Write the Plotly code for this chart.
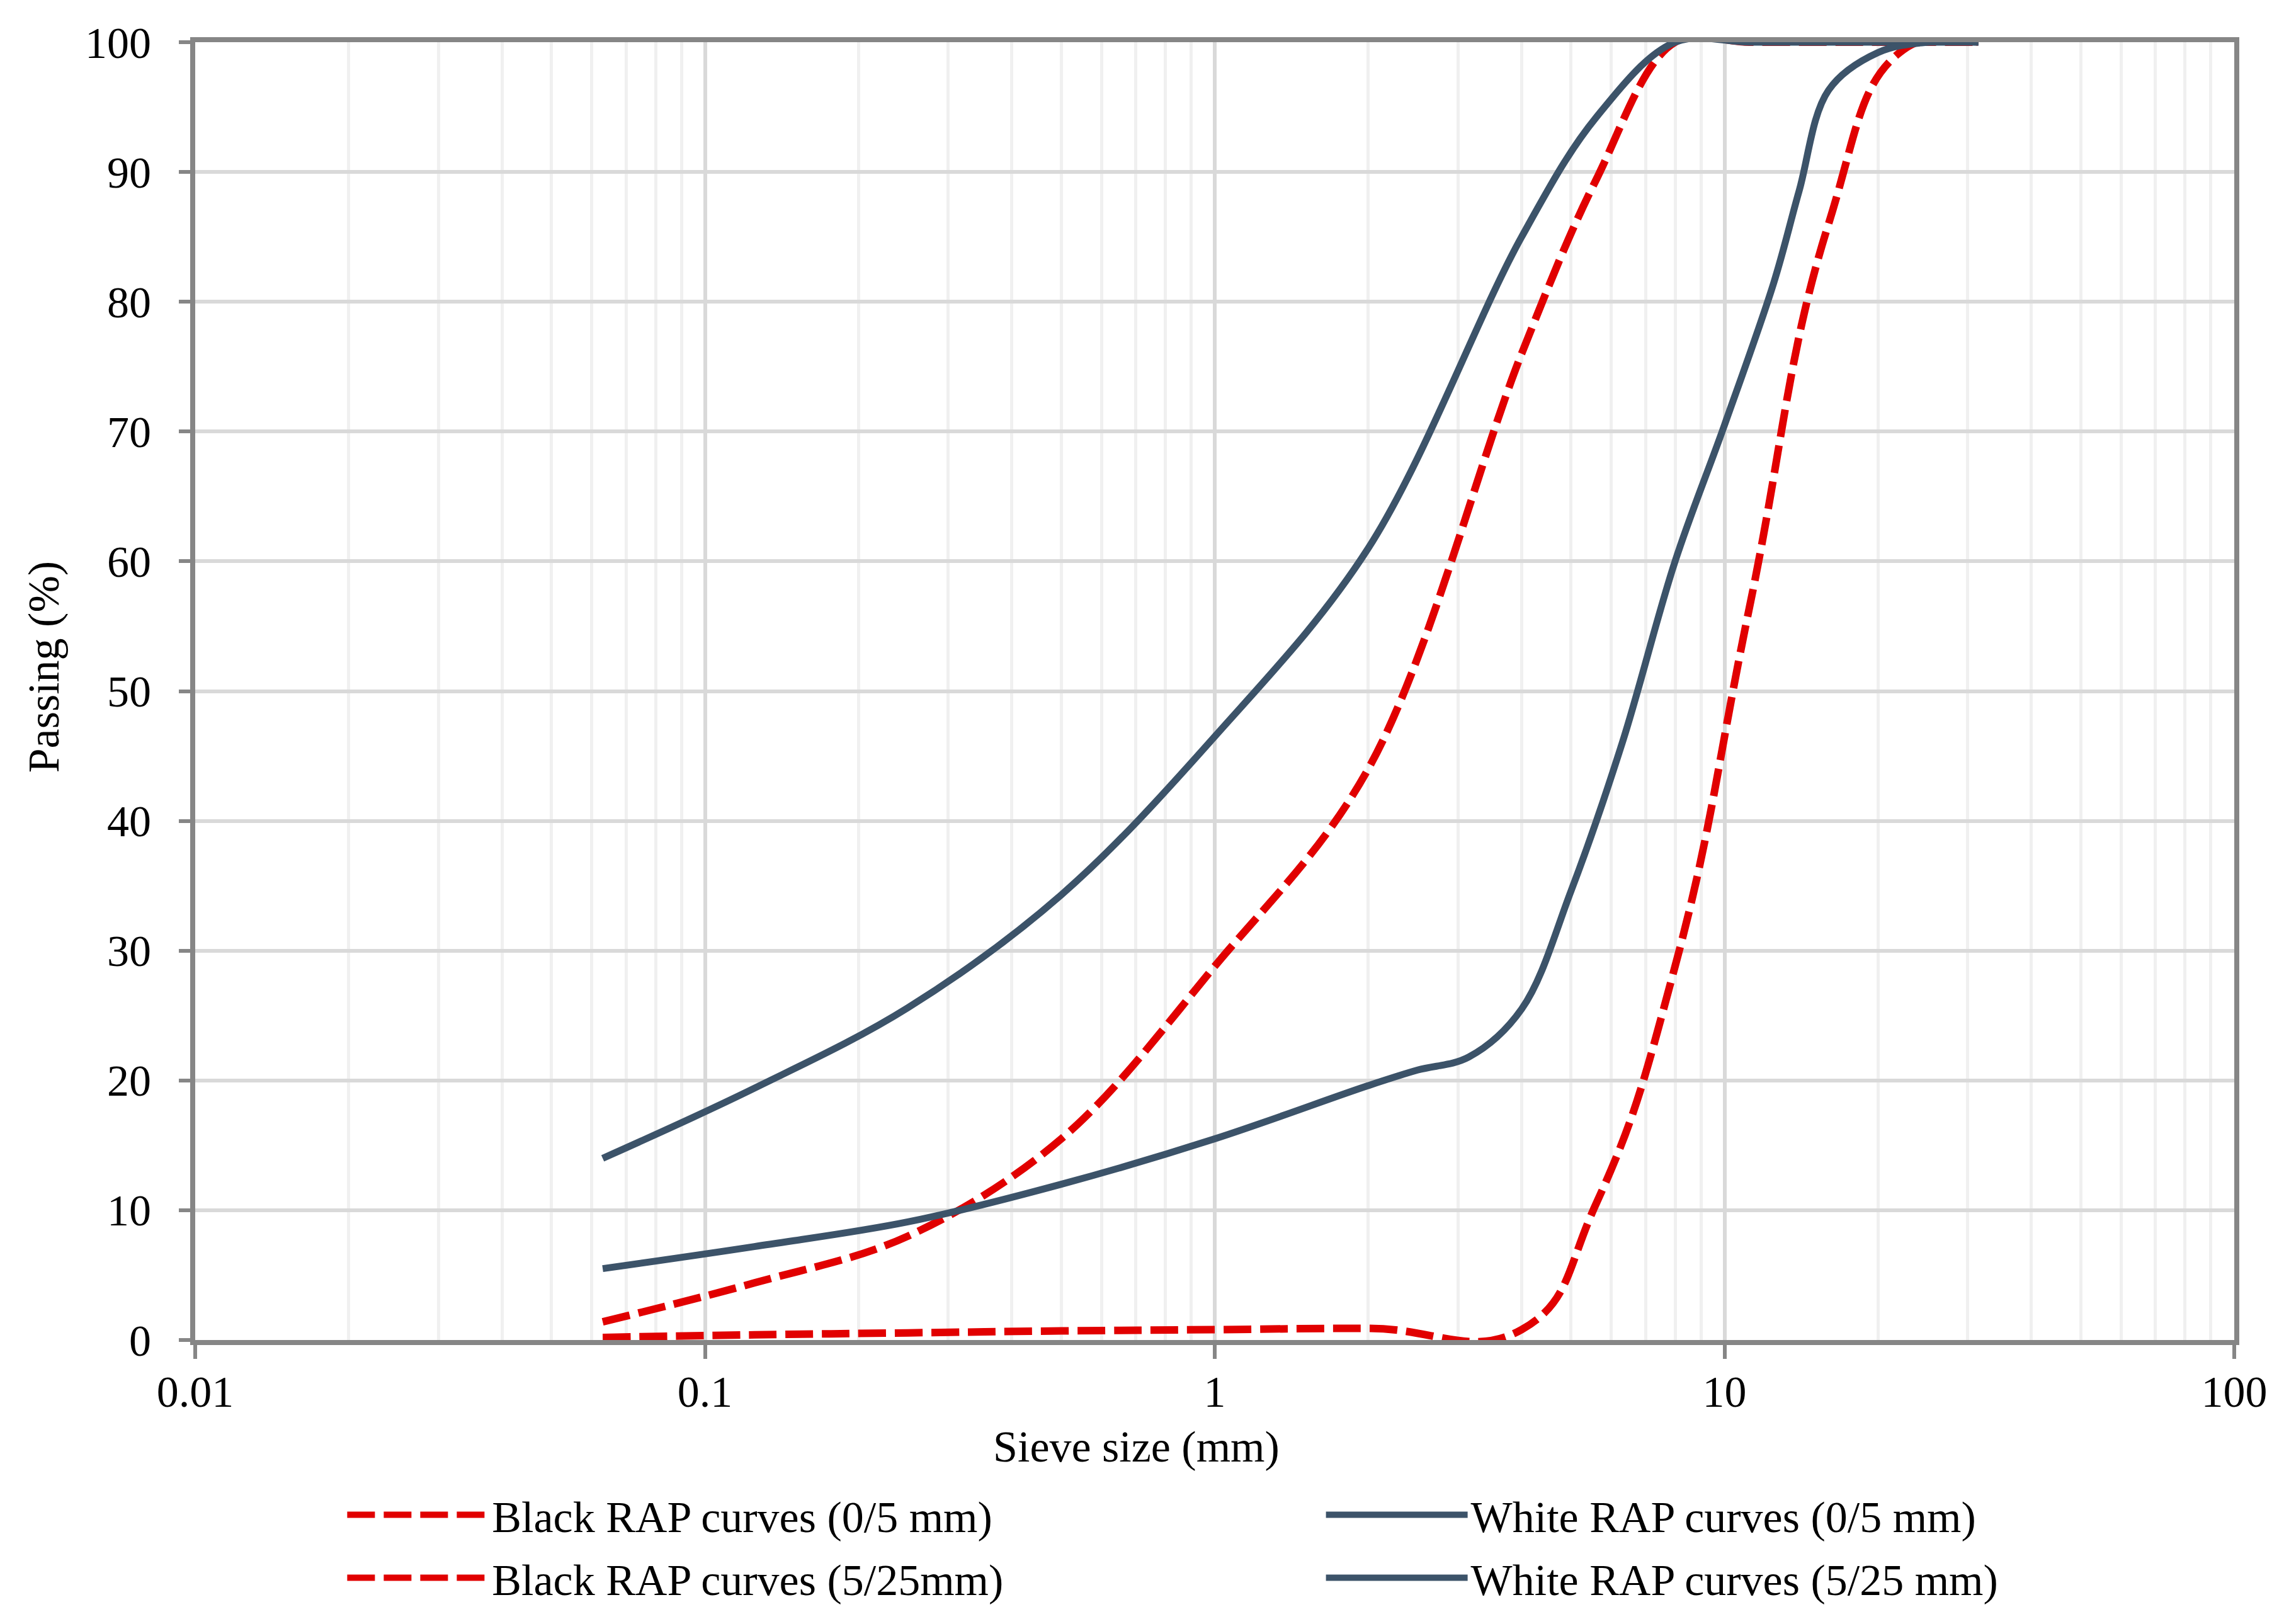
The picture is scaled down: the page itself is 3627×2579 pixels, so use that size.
import plotly.graph_objects as go

# sieve sizes (mm) and percentage passing
sieve_mm = [0.063, 0.125, 0.25, 0.5, 1, 2, 4, 5.6, 8, 11.2, 16, 22.4, 31.5]
black_0_5 = [1.4, 4.4, 8.0, 15.5, 28.8, 44.0, 76.0, 89.4, 100, 100, 100, 100, 100]
white_0_5 = [14.0, 19.4, 25.6, 34.3, 46.5, 61.0, 85.0, 94.2, 100, 100, 100, 100, 100]
black_5_25 = [0.2, 0.4, 0.55, 0.7, 0.8, 0.9, 0.8, 10.5, 28.8, 56.5, 86.0, 99.4, 100]

# the white 5/25 curve was read at a finer set of sieves
sieve_mm_fine = [0.063, 0.125, 0.25, 0.5, 1, 2, 2.5, 3.15, 4, 5, 6.3, 8, 10,
                 12.5, 14, 16, 20, 25, 31.5]
white_5_25 = [5.5, 7.2, 9.1, 12.0, 15.5, 19.6, 20.8, 21.8, 25.5, 34.6, 46.0,
              60.0, 70.5, 81.5, 88.5, 96.3, 99.2, 100, 100]

series_names = [
    'Black RAP curves (0/5 mm)',
    'White RAP curves (0/5 mm)',
    'Black RAP curves (5/25mm)',
    'White RAP curves (5/25 mm)',
]
x_tick_vals = [0.01, 0.1, 1, 10, 100]
x_tick_text = ['0.01', '0.1', '1', '10', '100']
y_tick_vals = [0, 10, 20, 30, 40, 50, 60, 70, 80, 90, 100]

RED = '#E10000'
NAVY = '#3C5369'
FONT = 'Liberation Serif'
AXIS = '#868686'

fig = go.Figure()
styles = [
    (sieve_mm, black_0_5, RED, '44px,14px', 12, 1.0, 'legend'),
    (sieve_mm, white_0_5, NAVY, 'solid', 11, 1.0, 'legend2'),
    (sieve_mm, black_5_25, RED, '44px,14px', 12, 1.3, 'legend'),
    (sieve_mm_fine, white_5_25, NAVY, 'solid', 11, 1.0, 'legend2'),
]
for name, (xs, values, colour, dash, width, smooth, leg) in zip(series_names, styles):
    fig.add_trace(go.Scatter(
        x=xs,
        y=values,
        mode='lines',
        name=name,
        legend=leg,
        legendgroup=name,
        line=dict(color=colour, width=width, dash=dash,
                  shape='spline', smoothing=smooth),
    ))

legend_style = dict(
    orientation='v',
    xanchor='left',
    y=-0.1094,
    yanchor='top',
    font=dict(family=FONT, size=70),
    itemwidth=225,
    bgcolor='rgba(0,0,0,0)',
    tracegroupgap=6,
)

# the page body adds an 8px offset, so the figure is 16px smaller
fig.update_layout(
    width=3611,
    height=2563,
    margin=dict(l=302, r=71, t=59, b=443, autoexpand=False),
    paper_bgcolor='white',
    plot_bgcolor='white',
    font=dict(family=FONT, size=70, color='black'),
    xaxis=dict(
        type='log',
        range=[-2, 2],
        tickvals=x_tick_vals,
        ticktext=x_tick_text,
        showgrid=True,
        gridcolor='#D9D9D9',
        gridwidth=6,
        minor=dict(dtick='D1', showgrid=True, gridcolor='#F0F0F0',
                   gridwidth=5, ticks=''),
        showline=True,
        linecolor=AXIS,
        linewidth=8,
        mirror=True,
        ticks='outside',
        ticklen=22,
        tickwidth=6,
        tickcolor=AXIS,
        ticklabelstandoff=-8,
        zeroline=False,
    ),
    yaxis=dict(
        range=[0, 100],
        tickvals=y_tick_vals,
        showgrid=True,
        gridcolor='#D9D9D9',
        gridwidth=6,
        showline=True,
        linecolor=AXIS,
        linewidth=8,
        mirror=True,
        ticks='outside',
        ticklen=18,
        tickwidth=6,
        tickcolor=AXIS,
        ticklabelstandoff=30,
        zeroline=False,
    ),
    legend=dict(legend_style, x=0.073),
    legend2=dict(legend_style, x=0.553),
    annotations=[
        dict(text='Passing (%)', textangle=-90, xref='paper', yref='paper',
             x=-0.074, y=0.5187, xanchor='center', yanchor='middle',
             showarrow=False, font=dict(size=70)),
        dict(text='Sieve size (mm)', xref='paper', yref='paper',
             x=0.4614, y=-0.082, xanchor='center', yanchor='middle',
             showarrow=False, font=dict(size=70)),
    ],
)

fig.write_html("out.html")
